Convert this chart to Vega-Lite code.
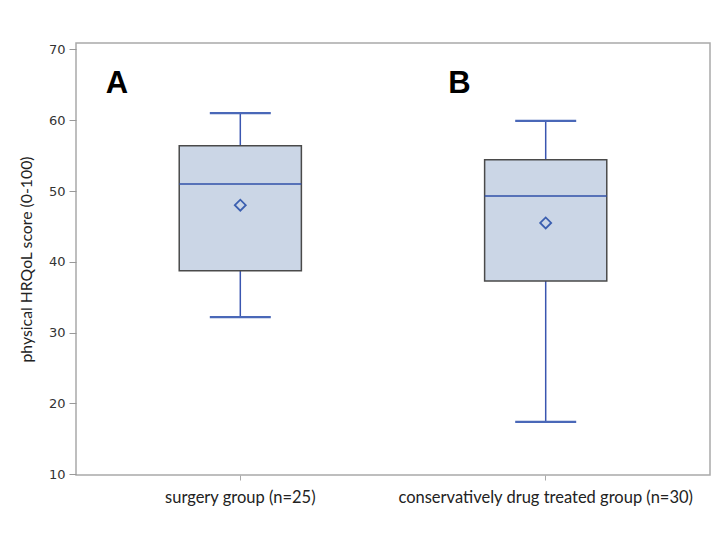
{
  "$schema": "https://vega.github.io/schema/vega-lite/v6.json",
  "width": 634,
  "height": 432,
  "autosize": {"type": "none"},
  "padding": {"left": 76, "top": 43, "right": 15, "bottom": 70},
  "background": "white",
  "config": {"view": {"stroke": "#a9a9a9", "strokeWidth": 1.5}, "font": "Lato"},
  "datasets": {
    "stats": [
      {"group": "surgery group (n=25)", "min": 32.2, "q1": 38.75, "median": 51.0, "q3": 56.4, "max": 61.0, "mean": 48.0},
      {"group": "conservatively drug treated group (n=30)", "min": 17.4, "q1": 37.3, "median": 49.3, "q3": 54.4, "max": 59.9, "mean": 45.5}
    ],
    "labels": [
      {"label": "A", "pos": 0.047, "score": 63.8},
      {"label": "B", "pos": 0.587, "score": 63.8}
    ]
  },
  "layer": [
    {
      "data": {"name": "stats"},
      "encoding": {
        "x": {
          "field": "group", "type": "nominal", "sort": null,
          "scale": {"paddingInner": 0.6, "paddingOuter": 0.338},
          "axis": {"title": null, "labelAngle": 0, "labelFont": "Lato", "labelFontSize": 16.5, "labelLimit": 500, "labelColor": "#222222", "tickColor": "#a9a9a9", "tickSize": 5, "domain": false, "labelPadding": 9}
        }
      },
      "layer": [
        {
          "mark": {"type": "rule", "color": "#3a56b0", "strokeWidth": 1.5},
          "encoding": {
            "y": {"field": "min", "type": "quantitative", "title": "physical HRQoL score (0-100)",
              "scale": {"domain": [9.9, 70.9], "nice": false, "zero": false},
              "axis": {"values": [10, 20, 30, 40, 50, 60, 70], "grid": false, "domain": false, "tickSize": 7, "tickColor": "#999999", "labelFont": "DejaVu Sans", "labelFontSize": 13, "labelColor": "#333333", "labelPadding": 4, "titleFont": "Lato", "titleFontSize": 15.8, "titleFontWeight": "normal", "titleColor": "#222222", "titlePadding": 14}},
            "y2": {"field": "q1"}
          }
        },
        {
          "mark": {"type": "rule", "color": "#3a56b0", "strokeWidth": 1.5},
          "encoding": {
            "y": {"field": "q3", "type": "quantitative", "title": "physical HRQoL score (0-100)"},
            "y2": {"field": "max"}
          }
        },
        {
          "mark": {"type": "tick", "color": "#4a68b8", "size": 61, "thickness": 2.2, "opacity": 1},
          "encoding": {"y": {"field": "min", "type": "quantitative", "title": "physical HRQoL score (0-100)"}}
        },
        {
          "mark": {"type": "tick", "color": "#4a68b8", "size": 61, "thickness": 2.2, "opacity": 1},
          "encoding": {"y": {"field": "max", "type": "quantitative", "title": "physical HRQoL score (0-100)"}}
        },
        {
          "mark": {"type": "bar", "fill": "#cbd6e6", "stroke": "#4a4a4a", "strokeWidth": 1.5},
          "encoding": {
            "y": {"field": "q1", "type": "quantitative", "title": "physical HRQoL score (0-100)"},
            "y2": {"field": "q3"}
          }
        },
        {
          "mark": {"type": "tick", "color": "#3050a8", "size": 122, "thickness": 1.5, "opacity": 1},
          "encoding": {"y": {"field": "median", "type": "quantitative", "title": "physical HRQoL score (0-100)"}}
        },
        {
          "mark": {"type": "point", "shape": "diamond", "filled": false, "color": "#3b5fb0", "strokeWidth": 1.8, "size": 120, "opacity": 1},
          "encoding": {"y": {"field": "mean", "type": "quantitative", "title": "physical HRQoL score (0-100)"}}
        }
      ]
    },
    {
      "data": {"name": "labels"},
      "mark": {"type": "text", "font": "Liberation Sans", "fontWeight": "bold", "fontSize": 31, "align": "left", "baseline": "alphabetic", "color": "#000000"},
      "encoding": {
        "x": {"field": "pos", "type": "quantitative", "scale": {"domain": [0, 1], "nice": false}, "axis": null},
        "y": {"field": "score", "type": "quantitative", "title": "physical HRQoL score (0-100)"},
        "text": {"field": "label"}
      }
    }
  ],
  "resolve": {"scale": {"x": "independent"}}
}
